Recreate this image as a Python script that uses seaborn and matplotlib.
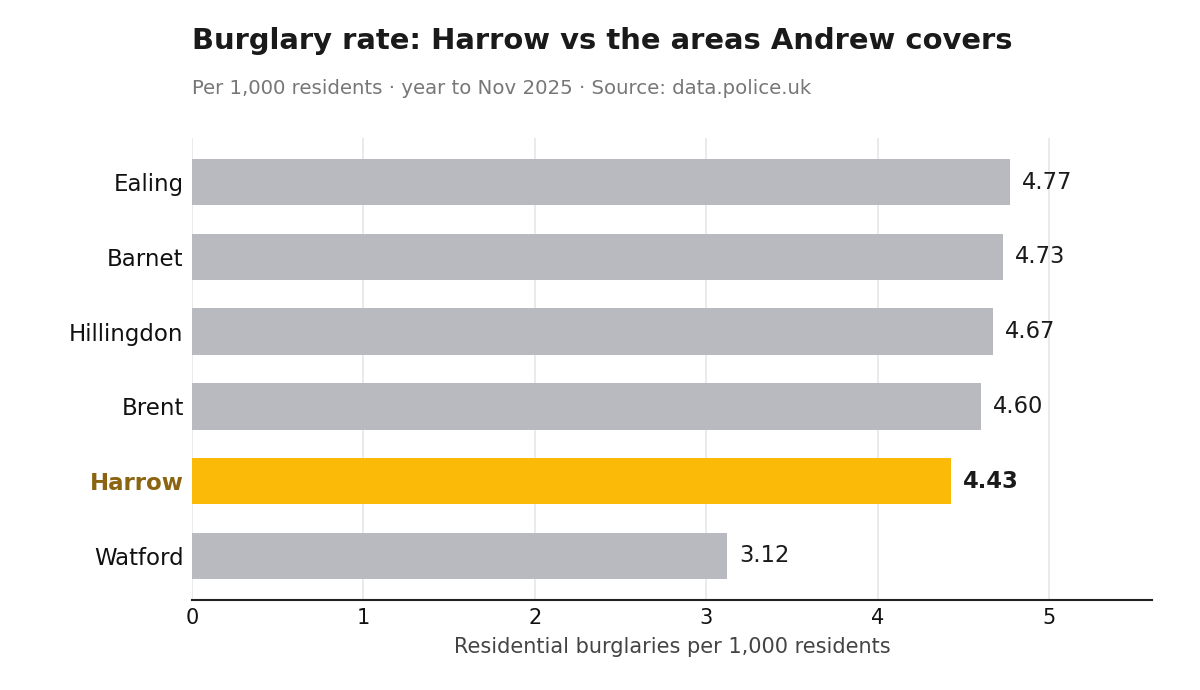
import pandas as pd
import matplotlib.pyplot as plt
import seaborn as sns

# Burglary rates per 1,000 residents, year to Nov 2025
areas = ['Ealing', 'Barnet', 'Hillingdon', 'Brent', 'Harrow', 'Watford']
rates = [4.77, 4.73, 4.67, 4.60, 4.43, 3.12]
highlight = 'Harrow'

GREY = '#b8bac0'
GOLD = '#fbba07'
GOLD_DARK = '#8a6410'

df = pd.DataFrame({'area': areas, 'rate': rates})
palette = {a: (GOLD if a == highlight else GREY) for a in areas}

sns.set_theme(style='white')
plt.rcParams['font.family'] = ['DejaVu Sans']

fig = plt.figure(figsize=(12, 6.9), dpi=100)
ax = fig.add_axes([0.16, 0.1304, 0.80, 0.6696])

sns.barplot(data=df, y='area', x='rate', hue='area', palette=palette,
            order=areas, width=0.62, legend=False, saturation=1,
            linewidth=0, ax=ax)

ax.set_xlim(0, 5.6)
ax.set_ylim(5.59, -0.59)
ax.set_xticks([0, 1, 2, 3, 4, 5])
ax.grid(axis='x', color='#e6e6e6', linewidth=1.2)
ax.set_axisbelow(True)

for s in ['top', 'right', 'left']:
    ax.spines[s].set_visible(False)
ax.spines['bottom'].set_color('#222222')
ax.spines['bottom'].set_linewidth(1.5)
ax.tick_params(axis='both', length=0)
ax.tick_params(axis='x', labelsize=15, pad=6, colors='#111111')
ax.tick_params(axis='y', labelsize=16.5, pad=6, colors='#111111')

for lbl in ax.get_yticklabels():
    if lbl.get_text() == highlight:
        lbl.set_color(GOLD_DARK)
        lbl.set_fontweight('bold')

# value labels at the end of each bar
for i, (a, v) in enumerate(zip(areas, rates)):
    ax.text(v + 0.07, i, f'{v:.2f}', va='center', ha='left', fontsize=16.3,
            color='#1a1a1a', fontweight='bold' if a == highlight else 'normal')

ax.set_ylabel('')
ax.set_xlabel('Residential burglaries per 1,000 residents', fontsize=15,
              color='#444444', labelpad=6)

fig.text(0.16, 0.940, 'Burglary rate: Harrow vs the areas Andrew covers',
         fontsize=20.9, fontweight='bold', color='#1a1a1a', va='center')
fig.text(0.16, 0.872, 'Per 1,000 residents \u00b7 year to Nov 2025 \u00b7 Source: data.police.uk',
         fontsize=14.2, color='#777777', va='center')

fig.savefig('out.png', dpi=100)
